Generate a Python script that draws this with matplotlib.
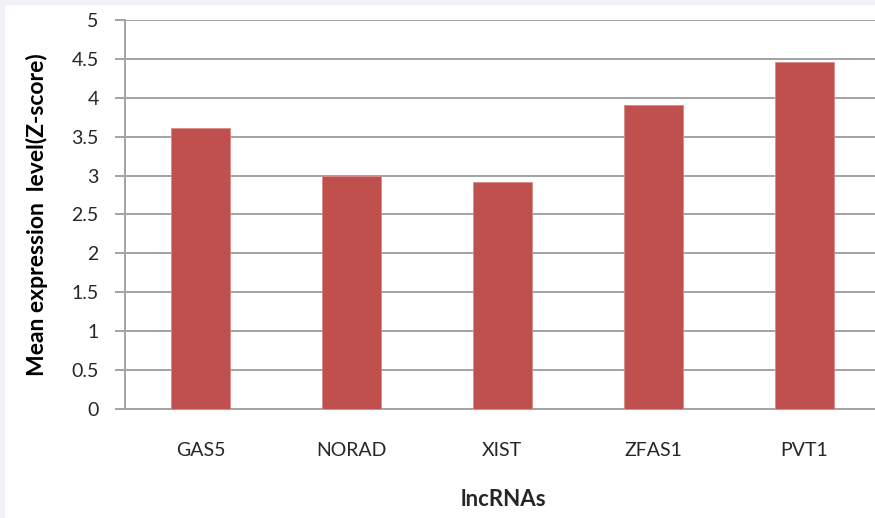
import matplotlib.pyplot as plt
from matplotlib.patches import Rectangle

genes = ["GAS5", "NORAD", "XIST", "ZFAS1", "PVT1"]
mean_z = [3.61, 3.0, 2.92, 3.91, 4.46]
yticks = [0, 0.5, 1, 1.5, 2, 2.5, 3, 3.5, 4, 4.5, 5]
ytick_labels = ["0", "0.5", "1", "1.5", "2", "2.5", "3", "3.5", "4", "4.5", "5"]

plt.rcParams['font.family'] = ['Lato', 'DejaVu Sans']
text_col = '#262626'
grid_col = '#a3a3a3'

fig = plt.figure(figsize=(8.75, 5.18), dpi=100, facecolor='#f0f2f5')
# white card inside the thin grey frame
fig.patches.append(Rectangle((5 / 875, 0), 1, 1 - 5 / 518, transform=fig.transFigure,
                             facecolor='white', edgecolor='none', zorder=-5))

ax = fig.add_axes([125 / 875, 1 - 409 / 518, 750 / 875, 389 / 518])
ax.set_facecolor('white')

x = range(len(genes))
ax.bar(x, mean_z, width=0.39, color='#c0504d', edgecolor='#d88a88', linewidth=0.6, zorder=3)

ax.set_xlim(-0.5, 4.47)
ax.set_ylim(0, 5)
ax.set_yticks(yticks)
ax.set_yticklabels(ytick_labels)
ax.set_xticks(list(x))
ax.set_xticklabels(genes)

ax.grid(axis='y', color=grid_col, linewidth=1.4, zorder=0)
for side in ('top', 'right'):
    ax.spines[side].set_visible(False)
for side in ('left', 'bottom'):
    ax.spines[side].set_color(grid_col)
    ax.spines[side].set_linewidth(1.4)

ax.tick_params(axis='y', length=7, width=1.4, color=grid_col, pad=12,
               labelsize=14, labelcolor=text_col)
ax.tick_params(axis='x', length=0, pad=24, labelsize=14, labelcolor=text_col)

fig.text(37 / 875, 1 - 215 / 518, "Mean expression  level(Z-score)", rotation=90,
         ha='center', va='center', fontsize=16.5, fontweight='bold', color='black')
fig.text(503 / 875, 1 - 500 / 518, "lncRNAs", ha='center', va='center',
         fontsize=16, fontweight='bold', color=text_col)

fig.savefig('out.png', dpi=100, facecolor=fig.get_facecolor())
